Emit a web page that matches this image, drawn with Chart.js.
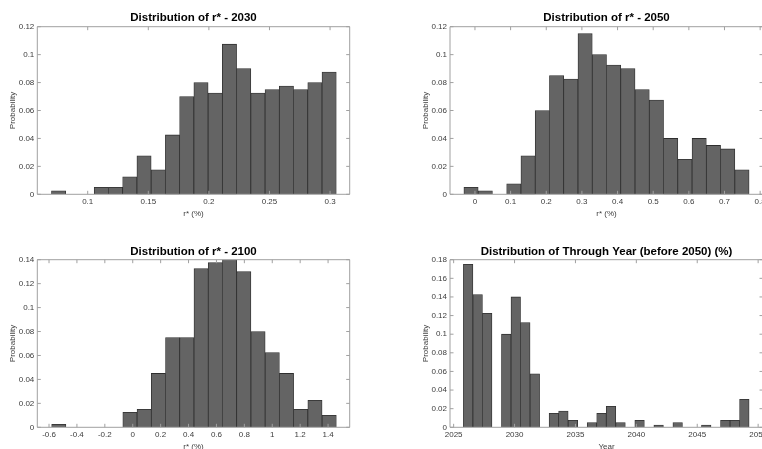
<!DOCTYPE html>
<html>
<head>
<meta charset="utf-8">
<script src="https://cdn.jsdelivr.net/npm/chart.js@4.4.1/dist/chart.umd.min.js"></script>
<style>
html,body{margin:0;padding:0;background:#fff;overflow:hidden;width:762px;height:449px;}
canvas{position:absolute;}
</style>
</head>
<body>
<canvas id="c1"></canvas>
<canvas id="c2"></canvas>
<canvas id="c3"></canvas>
<canvas id="c4"></canvas>
<script>
// ---------- DATA ----------
// Panel 1: r* 2030
const r2030BinCenters = [0.07598,0.08773,0.09948,0.11123,0.12298,0.13473,0.14648,0.15823,0.16998,0.18173,0.19348,0.20523,0.21698,0.22873,0.24048,0.25223,0.26398,0.27573,0.28748,0.29923];
const r2030Prob = [0.0025,0,0,0.005,0.005,0.0125,0.0275,0.0175,0.0425,0.07,0.08,0.0725,0.1075,0.09,0.0725,0.075,0.0775,0.075,0.08,0.0875];
const r2030XTicks = [0.1,0.15,0.2,0.25,0.3];
const r2030YTicks = [0,0.02,0.04,0.06,0.08,0.1,0.12];

// Panel 2: r* 2050
const r2050BinCenters = [-0.011,0.029,0.069,0.109,0.149,0.189,0.229,0.269,0.309,0.349,0.389,0.429,0.469,0.509,0.549,0.589,0.629,0.669,0.709,0.749];
const r2050Prob = [0.005,0.0025,0,0.0075,0.0275,0.06,0.085,0.0825,0.115,0.1,0.0925,0.09,0.075,0.0675,0.04,0.025,0.04,0.035,0.0325,0.0175];
const r2050XTicks = [0,0.1,0.2,0.3,0.4,0.5,0.6,0.7,0.8];
const r2050YTicks = [0,0.02,0.04,0.06,0.08,0.1,0.12];

// Panel 3: r* 2100
const r2100BinCenters = [-0.530,-0.428,-0.326,-0.224,-0.122,-0.020,0.082,0.184,0.286,0.388,0.490,0.592,0.694,0.796,0.898,1.000,1.102,1.204,1.306,1.408];
const r2100Prob = [0.0025,0,0,0,0,0.0125,0.015,0.045,0.075,0.075,0.1325,0.1375,0.14,0.13,0.08,0.0625,0.045,0.015,0.0225,0.01];
const r2100XTicks = [-0.6,-0.4,-0.2,0,0.2,0.4,0.6,0.8,1,1.2,1.4];
const r2100YTicks = [0,0.02,0.04,0.06,0.08,0.1,0.12,0.14];

// Panel 4: Through year (before 2050)
const yearBinCenters = [2026.19,2026.972,2027.754,2028.536,2029.318,2030.1,2030.882,2031.664,2032.446,2033.228,2034.01,2034.792,2035.574,2036.356,2037.138,2037.92,2038.702,2039.484,2040.266,2041.048,2041.83,2042.612,2043.394,2044.176,2044.958,2045.74,2046.522,2047.304,2048.086,2048.868];
const yearProb = [0.175,0.1425,0.1225,0,0.1,0.14,0.1125,0.0575,0,0.015,0.0175,0.0075,0,0.005,0.015,0.0225,0.005,0,0.0075,0,0.0025,0,0.005,0,0,0.0025,0,0.0075,0.0075,0.03];
const yearXTicks = [2025,2030,2035,2040,2045,2050];
const yearYTicks = [0,0.02,0.04,0.06,0.08,0.1,0.12,0.14,0.16,0.18];

const titles = ['Distribution of r* - 2030','Distribution of r* - 2050','Distribution of r* - 2100','Distribution of Through Year (before 2050) (%)'];
const xLabels = ['r* (%)','r* (%)','r* (%)','Year'];
const yLabel = 'Probability';

// ---------- RENDERING ----------
const FONT = '"Liberation Sans", Arial, Helvetica, sans-serif';
const TXT = '#3c3c3c';

function fmt(v){ return parseFloat(Number(v).toFixed(6)).toString(); }

const matlabBox = {
  id: 'matlabBox',
  afterDatasetsDraw(chart) {
    const ctx = chart.ctx, a = chart.chartArea, x = chart.scales.x, y = chart.scales.y;
    const L = 3.5;
    ctx.save();
    ctx.strokeStyle = '#a0a0a0';
    ctx.lineWidth = 1;
    ctx.beginPath();
    ctx.rect(a.left, a.top, a.right - a.left, a.bottom - a.top);
    x.ticks.forEach(t => {
      const px = x.getPixelForValue(t.value);
      ctx.moveTo(px, a.bottom); ctx.lineTo(px, a.bottom - L);
      ctx.moveTo(px, a.top); ctx.lineTo(px, a.top + L);
    });
    y.ticks.forEach(t => {
      const py = y.getPixelForValue(t.value);
      ctx.moveTo(a.left, py); ctx.lineTo(a.left + L, py);
      ctx.moveTo(a.right, py); ctx.lineTo(a.right - L, py);
    });
    ctx.stroke();
    ctx.restore();
  }
};

function makePanel(id, p) {
  const cv = document.getElementById(id);
  cv.width = p.cw; cv.height = p.ch;
  cv.style.left = p.cx + 'px'; cv.style.top = p.cy + 'px';
  cv.style.width = p.cw + 'px'; cv.style.height = p.ch + 'px';
  const data = p.centers.map((c, i) => ({x: c, y: p.probs[i]}));
  new Chart(cv, {
    type: 'bar',
    data: { datasets: [{
      data: data,
      backgroundColor: '#646464',
      borderColor: '#2e2e2e',
      borderWidth: 0.8,
      borderSkipped: 'start',
      barPercentage: 1,
      categoryPercentage: 1
    }]},
    options: {
      responsive: false,
      animation: false,
      devicePixelRatio: 1,
      layout: { padding: 0 },
      plugins: {
        legend: { display: false },
        tooltip: { enabled: false },
        title: {
          display: true,
          text: p.title,
          color: '#000',
          font: { family: FONT, size: 11.5, weight: 'bold', lineHeight: 1.2 },
          padding: { top: p.titlePadTop, bottom: p.titlePadBottom }
        }
      },
      scales: {
        x: {
          type: 'linear',
          position: 'bottom',
          min: p.xmin, max: p.xmax,
          offset: false,
          grid: { display: false, drawTicks: false },
          border: { display: false },
          afterBuildTicks: s => { s.ticks = p.xticks.map(v => ({value: v})); },
          afterFit: s => { s.height = 30.7; },
          ticks: {
            autoSkip: false, maxRotation: 0, minRotation: 0,
            padding: 3,
            color: TXT,
            font: { family: FONT, size: 8 },
            callback: v => fmt(v)
          },
          title: {
            display: true, text: p.xlabel, color: TXT,
            font: { family: FONT, size: 8, lineHeight: 1.2 },
            padding: { top: 0, bottom: 6.6 }
          }
        },
        y: {
          type: 'linear',
          position: 'left',
          min: 0, max: p.ymax,
          grid: { display: false, drawTicks: false },
          border: { display: false },
          afterBuildTicks: s => { s.ticks = p.yticks.map(v => ({value: v})); },
          afterFit: s => { s.width = p.yw; },
          ticks: {
            autoSkip: false,
            padding: 3,
            color: TXT,
            font: { family: FONT, size: 8 },
            callback: v => fmt(v)
          },
          title: {
            display: true, text: yLabel, color: TXT,
            font: { family: FONT, size: 8, lineHeight: 1.2 },
            padding: { top: 7.6, bottom: 0 }
          }
        },
        yRight: {
          type: 'linear',
          position: 'right',
          display: true,
          grid: { display: false, drawTicks: false },
          border: { display: false },
          ticks: { display: false },
          afterFit: s => { s.width = p.yw; }
        }
      }
    },
    plugins: [matlabBox]
  });
}

makePanel('c1', {cx:0, cy:0, cw:387, ch:225, yw:37.3, titlePadTop:11.4, titlePadBottom:1.5,
  centers:r2030BinCenters, probs:r2030Prob, xticks:r2030XTicks, yticks:r2030YTicks,
  xmin:0.0584, xmax:0.3162, ymax:0.12, title:titles[0], xlabel:xLabels[0]});
makePanel('c2', {cx:413, cy:0, cw:387, ch:225, yw:37, titlePadTop:11.4, titlePadBottom:1.5,
  centers:r2050BinCenters, probs:r2050Prob, xticks:r2050XTicks, yticks:r2050YTicks,
  xmin:-0.07, xmax:0.808, ymax:0.12, title:titles[1], xlabel:xLabels[1]});
makePanel('c3', {cx:0, cy:225, cw:387, ch:233, yw:37.3, titlePadTop:19.8, titlePadBottom:1.1,
  centers:r2100BinCenters, probs:r2100Prob, xticks:r2100XTicks, yticks:r2100YTicks,
  xmin:-0.684, xmax:1.555, ymax:0.14, title:titles[2], xlabel:xLabels[2]});
makePanel('c4', {cx:413, cy:225, cw:387, ch:233, yw:37, titlePadTop:19.8, titlePadBottom:1.1,
  centers:yearBinCenters, probs:yearProb, xticks:yearXTicks, yticks:yearYTicks,
  xmin:2024.7, xmax:2050.4, ymax:0.18, title:titles[3], xlabel:xLabels[3]});
</script>
</body>
</html>
